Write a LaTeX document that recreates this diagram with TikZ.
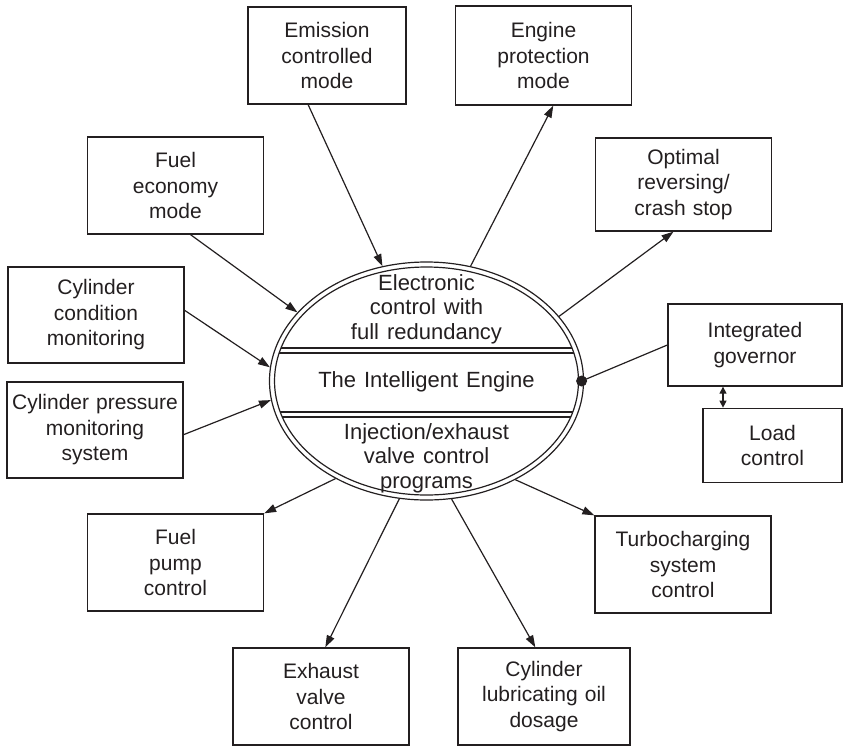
\documentclass[tikz,border=0pt]{standalone}
\usepackage{fontspec}
\setmainfont[WordSpace=1.3]{Liberation Sans}
\usepackage{tikz}
\usetikzlibrary{arrows.meta,positioning,shapes.geometric}
\definecolor{InkBlack}{HTML}{231F20}

\begin{document}
\begin{tikzpicture}[x=1pt,y=-1pt,
  box/.style={rectangle,draw=InkBlack,line width=1.3pt,minimum width=176pt,minimum height=97pt,text width=172pt,inner sep=0pt,align=center,font=\fontsize{21}{25.5}\selectfont,text=InkBlack},
  ring/.style={draw=InkBlack,line width=1.2pt},
  etext/.style={align=center,font=\fontsize{22}{24.5}\selectfont,text=InkBlack},
  arrow/.style={-{Triangle[length=12pt,width=8pt]},line width=1.2pt,draw=InkBlack},
  twoway/.style={{Triangle[length=7pt,width=7pt]}-{Triangle[length=7pt,width=7pt]},line width=1.2pt,draw=InkBlack},
  junction/.style={circle,fill=InkBlack,inner sep=0pt,minimum size=11pt}]
\useasboundingbox (0,0) rectangle (843,747);
\node[box,minimum width=158pt,text width=154pt] (emission) at (327,55.5) {Emission\\controlled\\mode};
\node[box,minimum height=99pt] (protect) at (543.5,55.5) {Engine\\protection\\mode};
\node[box] (economy) at (175.5,185.5) {Fuel\\economy\\mode};
\node[box,minimum height=93pt] (reversing) at (683.5,184.5) {Optimal\\reversing/\\crash stop};
\node[box,minimum height=96pt] (condition) at (96,315) {Cylinder\\condition\\monitoring};
\node[box,minimum height=96pt] (pressure) at (95,430) {Cylinder pressure\\monitoring\\system};
\node[box,minimum width=174pt,minimum height=82pt] (governor) at (755,345) {Integrated\\governor};
\node[box,minimum width=139pt,text width=135pt,minimum height=74pt,below=21pt of governor.south east,anchor=north east] (load) {Load\\control};
\node[box] (pump) at (175.5,562.5) {Fuel\\pump\\control};
\node[box] (turbo) at (683,564.5) {Turbocharging\\system\\control};
\node[box] (exhaust) at (321,696.5) {Exhaust\\valve\\control};
\node[box,minimum width=172pt] (lube) at (544,696.5) {Cylinder\\lubricating oil\\dosage};
% the engine: double ring split in three
\node[ellipse,ring,minimum width=314pt,minimum height=238pt,inner sep=0pt] (engine) at (426.5,381) {};
\begin{scope}
  \clip (engine.center) ellipse [x radius=152, y radius=114];
  \foreach \yy in {348,353,412,417}
    \draw[ring] (260,\yy) -- (600,\yy);
\end{scope}
\draw[ring] (engine.center) ellipse [x radius=152, y radius=114];
\node[etext] (redundancy) at ([yshift=72pt]engine.center) {Electronic\\control with\\full redundancy};
\node[etext] (intelligent) at ([yshift=-1pt]engine.center) {The Intelligent Engine};
\node[etext] (programs) at ([yshift=-77pt]engine.center) {Injection/exhaust\\valve control\\programs};
\node[junction] (gdot) at ([xshift=-2.5pt]engine.east) {};
% connectors
\draw[arrow] (emission.249) -- (engine.111);
\draw[arrow] (engine.69) -- (protect.281);
\draw[arrow] (economy.287) -- (engine.152);
\draw[arrow] (engine.26) -- (reversing.258);
\draw[arrow] (condition.3) -- (engine.175);
\draw[arrow] (pressure.357) -- (engine.187);
\draw[ring] (gdot.center) -- (governor.west);
\draw[twoway] ([xshift=-32pt]governor.south) -- ([xshift=-32pt]governor.south |- load.north);
\draw[arrow] (engine.227) -- (pump.north east);
\draw[arrow] (engine.312) -- (turbo.north west);
\draw[arrow] (engine.257) -- (exhaust.85);
\draw[arrow] (engine.282) -- (lube.100);
\end{tikzpicture}
\end{document}
